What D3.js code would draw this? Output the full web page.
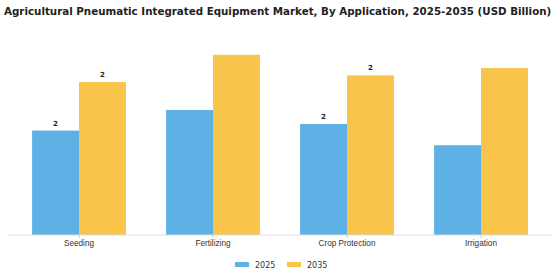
<!DOCTYPE html>
<html>
<head>
<meta charset="utf-8">
<script src="https://cdn.jsdelivr.net/npm/d3@7"></script>
<style>
  body { margin: 0; background: #fff; }
  svg { display: block; font-family: "DejaVu Sans", sans-serif; }
  .title { font-weight: bold; font-size: 10.3px; fill: #222; }
  .cat text { font-size: 8.2px; fill: #333; }
  .lbl { font-size: 7px; font-weight: bold; fill: #222; }
  .legend text { font-size: 8px; fill: #333; }
</style>
</head>
<body>
<svg width="560" height="280"></svg>
<script>
const categories = ["Seeding", "Fertilizing", "Crop Protection", "Irrigation"];
const seriesNames = ["2025", "2035"];
const values2025 = [1.57, 1.88, 1.67, 1.35];
const values2035 = [2.30, 2.71, 2.40, 2.51];
// which bars carry a value label in the original
const labels2025 = ["2", "", "2", ""];
const labels2035 = ["2", "", "2", ""];
const colors = ["#5DB1E4", "#F8C449"];

const svg = d3.select("svg"),
    width = +svg.attr("width"),
    height = +svg.attr("height");

const margin = { top: 35, right: 12, bottom: 45, left: 12 };
const baseY = height - margin.bottom;

svg.append("text")
    .attr("class", "title")
    .attr("x", 4)
    .attr("y", 15)
    .text("Agricultural Pneumatic Integrated Equipment Market, By Application, 2025-2035 (USD Billion)");

const x0 = d3.scaleBand()
    .domain(categories)
    .range([margin.left, width - margin.right])
    .paddingInner(0.3)
    .paddingOuter(0.15);

const x1 = d3.scaleBand()
    .domain(seriesNames)
    .range([0, x0.bandwidth()]);

const y = d3.scaleLinear()
    .domain([0, 3])
    .range([baseY, baseY - 199.5]);

const rows = categories.map((c, i) => ({
    cat: c,
    vals: [
        { key: "2025", v: values2025[i], lbl: labels2025[i] },
        { key: "2035", v: values2035[i], lbl: labels2035[i] }
    ]
}));

const groups = svg.append("g")
    .selectAll("g")
    .data(rows)
    .join("g")
    .attr("transform", d => `translate(${x0(d.cat)},0)`);

groups.selectAll("rect")
    .data(d => d.vals)
    .join("rect")
    .attr("x", d => x1(d.key))
    .attr("y", d => y(d.v))
    .attr("width", x1.bandwidth())
    .attr("height", d => y(0) - y(d.v))
    .attr("fill", (d, i) => colors[i]);

groups.selectAll("text")
    .data(d => d.vals.filter(v => v.lbl))
    .join("text")
    .attr("class", "lbl")
    .attr("x", d => x1(d.key) + x1.bandwidth() / 2)
    .attr("y", d => y(d.v) - 5)
    .attr("text-anchor", "middle")
    .text(d => d.lbl);

const xAxis = d3.axisBottom(x0)
    .tickSize(3)
    .tickPadding(2);

const gX = svg.append("g")
    .attr("class", "cat")
    .attr("transform", `translate(0,${baseY})`)
    .call(xAxis);
gX.select(".domain").attr("stroke", "#ddd").attr("d", `M${margin.left - 4},0H${width - margin.right + 4}`);
gX.selectAll(".tick line").attr("stroke", "#ccc");
gX.selectAll(".tick text").attr("font-family", null).attr("font-size", null);

const legend = svg.append("g").attr("class", "legend");
const lx = [235, 287];
seriesNames.forEach((s, i) => {
    legend.append("rect")
        .attr("x", lx[i])
        .attr("y", 262)
        .attr("width", 14)
        .attr("height", 5)
        .attr("fill", colors[i]);
    legend.append("text")
        .attr("x", lx[i] + 20)
        .attr("y", 268)
        .text(s);
});
</script>
</body>
</html>
